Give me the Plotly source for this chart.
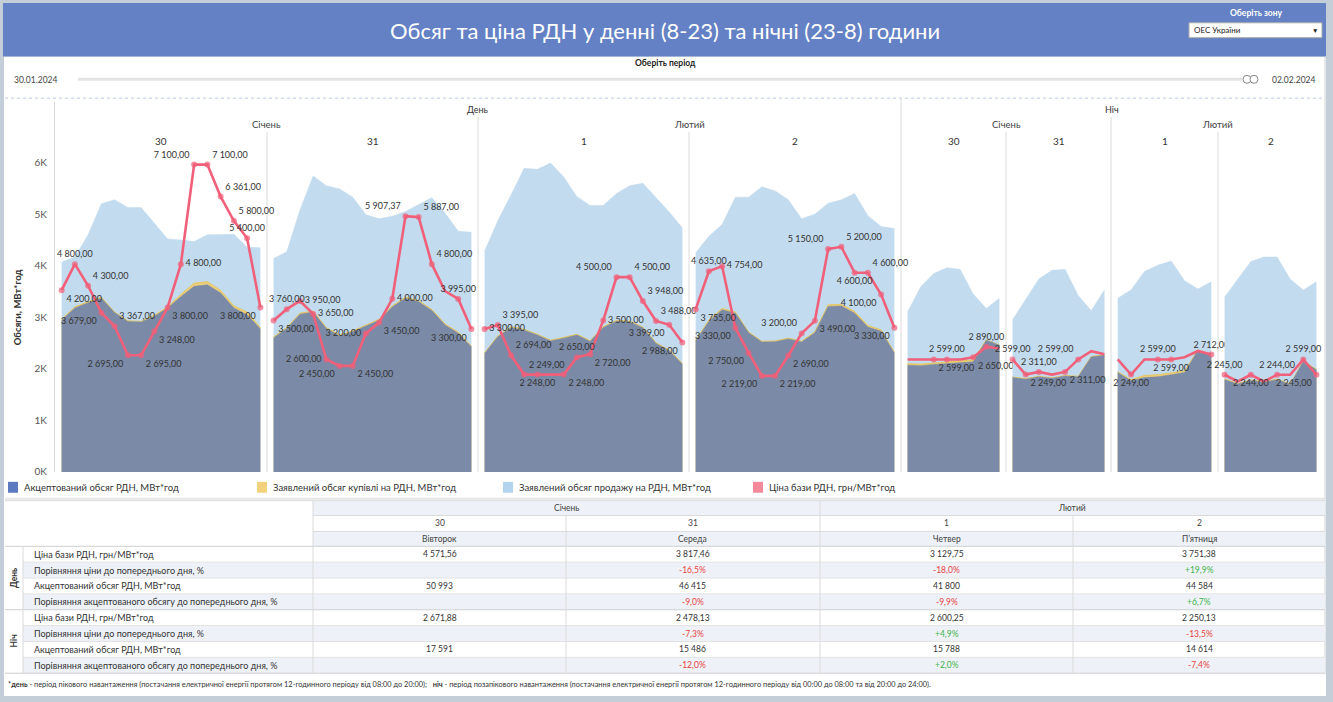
import plotly.graph_objects as go

W, H = 1333, 702
FONT = "Lato"


def px(x):
    return x / W


def py(y):
    return 1 - y / H


# ------------------------------------------------------------------ data
DAY_HOURS = list(range(8, 24))
NIGHT_HOURS = list(range(0, 8))
DAYS = ["30", "31", "1", "2"]
WEEKDAYS = ["Вівторок", "Середа", "Четвер", "П’ятниця"]
VOL_TICKS = [0, 1000, 2000, 3000, 4000, 5000, 6000]
VOL_TICK_LABELS = ["0K", "1K", "2K", "3K", "4K", "5K", "6K"]

# day (08-23) hourly values
day30_price = [4200, 4800, 4300, 3679, 3367, 2695, 2695, 3248, 3800, 4800, 7100, 7100, 6361, 5800, 5400, 3800]
day31_price = [3500, 3760, 3950, 3650, 2600, 2450, 2450, 3200, 3450, 4000, 5907.37, 5887, 4800, 4180, 3995, 3300]
day01_price = [3300, 3395, 2694, 2249, 2248, 2249, 2248, 2650, 2720, 3500, 4500, 4500, 3948, 3488, 3399, 2988]
day02_price = [3755, 4635, 4754, 3330, 2750, 2219, 2219, 2690, 3200, 3490, 5150, 5200, 4600, 4600, 4100, 3330]

day30_accepted = [2940, 3180, 3280, 3370, 3090, 2920, 2910, 3020, 3180, 3400, 3600, 3630, 3470, 3180, 3050, 2773]
day31_accepted = [2600, 2780, 3060, 3100, 2780, 2640, 2720, 2830, 2940, 3200, 3370, 3300, 3130, 2850, 2690, 2425]
day01_accepted = [2295, 2620, 2800, 2750, 2655, 2540, 2595, 2655, 2530, 2800, 2925, 2910, 2795, 2490, 2350, 2090]
day02_accepted = [2540, 2920, 3145, 3080, 2700, 2520, 2525, 2580, 2520, 2700, 3210, 3220, 3080, 2810, 2730, 2304]

day30_buy = [2960, 3200, 3300, 3390, 3100, 2930, 2920, 3040, 3200, 3440, 3660, 3690, 3520, 3220, 3100, 2800]
day31_buy = [2615, 2800, 3080, 3120, 2800, 2655, 2735, 2850, 2960, 3220, 3390, 3320, 3150, 2870, 2710, 2440]
day01_buy = [2310, 2635, 2815, 2765, 2670, 2555, 2610, 2670, 2545, 2815, 2940, 2925, 2810, 2505, 2365, 2105]
day02_buy = [2555, 2945, 3170, 3100, 2715, 2535, 2540, 2595, 2535, 2720, 3240, 3250, 3110, 2840, 2755, 2320]

day30_sell = [4070, 4170, 4600, 5200, 5280, 5130, 5130, 4830, 4520, 4500, 4470, 4600, 4610, 4610, 4360, 4350]
day31_sell = [4140, 4270, 5080, 5740, 5550, 5490, 5330, 4990, 4910, 4960, 5050, 5180, 5320, 5020, 4670, 4650]
day01_sell = [4280, 4870, 5370, 5890, 5870, 5990, 5720, 5340, 5170, 5170, 5400, 5550, 5600, 5320, 5040, 4730]
day02_sell = [4250, 4570, 4800, 5330, 5330, 5530, 5450, 5280, 4910, 5000, 5210, 5280, 5400, 4970, 4760, 4720]

# night hourly values
night30_price = [2599, 2599, 2599, 2599, 2599, 2650, 2890, 2850]
night31_price = [2599, 2249, 2311, 2249, 2311, 2599, 2790, 2717]
night01_price = [2599, 2249, 2599, 2599, 2599, 2650, 2795, 2712]
night02_price = [2245, 2090, 2244, 2090, 2244, 2244, 2599, 2245]

night30_accepted = [2070, 2060, 2085, 2105, 2125, 2135, 2555, 2456]
night31_accepted = [1830, 1800, 1845, 1815, 1860, 1845, 2230, 2261]
night01_accepted = [1930, 1770, 1830, 1845, 1885, 1930, 2355, 2243]
night02_accepted = [1790, 1705, 1775, 1740, 1790, 1695, 2140, 1979]

night30_buy = [2100, 2090, 2110, 2135, 2155, 2170, 2560, 2460]
night31_buy = [1840, 1810, 1855, 1825, 1870, 1855, 2240, 2270]
night01_buy = [1945, 1790, 1870, 1885, 1920, 1960, 2365, 2250]
night02_buy = [1800, 1715, 1785, 1750, 1800, 1705, 2150, 1990]

night30_sell = [3100, 3590, 3850, 3960, 3930, 3450, 3170, 3370]
night31_sell = [2950, 3350, 3740, 3910, 3930, 3420, 3130, 3530]
night01_sell = [3370, 3530, 3890, 4010, 4090, 3710, 3550, 3690]
night02_sell = [3390, 3740, 4080, 4170, 4170, 3740, 3530, 3690]

# summary table
day_price_avg = [4571.56, 3817.46, 3129.75, 3751.38]
day_price_chg = [None, -16.5, -18.0, 19.9]
day_volume = [50993, 46415, 41800, 44584]
day_volume_chg = [None, -9.0, -9.9, 6.7]
night_price_avg = [2671.88, 2478.13, 2600.25, 2250.13]
night_price_chg = [None, -7.3, 4.9, -13.5]
night_volume = [17591, 15486, 15788, 14614]
night_volume_chg = [None, -12.0, 2.0, -7.4]

# ------------------------------------------------------------------ styles
C_BG = "#c4ced9"
C_HEADER = "#6381c4"
C_ACC = "#7a8aa7"
C_BUY = "#eccf78"
C_SELL = "#c3dbee"
C_PRICE = "#f0607a"
C_TXT = "#333333"
C_GRID = "#dadada"
C_ALT = "#eef2f8"

POS = {"tc": "top center", "bc": "bottom center", "tl": "top left", "tr": "top right",
       "bl": "bottom left", "br": "bottom right", "ml": "middle left", "mr": "middle right", "": "top center"}

label_pos = [
    ["br", "tc", "tr", "bl", "tr", "bl", "br", "br", "br", "mr", "tl", "tr", "tr", "tr", "tc", "bl"],
    ["br", "tc", "mr", "mr", "ml", "bl", "br", "ml", "br", "mr", "tl", "tr", "tr", "", "tc", "bl"],
    ["mr", "tr", "tr", "tr", "bc", "", "br", "tc", "br", "mr", "tl", "tr", "tr", "tr", "bl", "bl"],
    ["br", "tc", "mr", "bl", "bl", "bl", "br", "br", "tl", "br", "tl", "tr", "bc", "tr", "bl", "bl"],
    ["", "", "br", "tc", "", "br", "tc", ""],
    ["tc", "br", "tc", "", "br", "tl", "", ""],
    ["", "bc", "", "tc", "bc", "", "", "tc"],
    ["tc", "", "bc", "", "tc", "", "tc", "bl"],
]

# panel pixel extents (left, right)
panel_px = [(55, 267), (267, 478), (478, 689), (689, 901),
            (901, 1006), (1006, 1111), (1111, 1218), (1218, 1323)]
PLOT_TOP, PLOT_BOT = 103, 476
VOL_PX_PER_UNIT = 0.052
PRICE_PX_PER_UNIT = 0.04366


def fmt_price(v):
    return f"{v:,.2f}".replace(",", " ").replace(".", ",")


def fmt_int(v):
    return f"{v:,}".replace(",", " ")


def fmt_pct(v):
    if v is None:
        return ""
    return f"{v:+.1f}%".replace(".", ",")


panels = [
    (DAY_HOURS, day30_sell, day30_buy, day30_accepted, day30_price),
    (DAY_HOURS, day31_sell, day31_buy, day31_accepted, day31_price),
    (DAY_HOURS, day01_sell, day01_buy, day01_accepted, day01_price),
    (DAY_HOURS, day02_sell, day02_buy, day02_accepted, day02_price),
    (NIGHT_HOURS, night30_sell, night30_buy, night30_accepted, night30_price),
    (NIGHT_HOURS, night31_sell, night31_buy, night31_accepted, night31_price),
    (NIGHT_HOURS, night01_sell, night01_buy, night01_accepted, night01_price),
    (NIGHT_HOURS, night02_sell, night02_buy, night02_accepted, night02_price),
]

fig = go.Figure()
layout_axes = {}
vol_max = (PLOT_BOT - PLOT_TOP) / VOL_PX_PER_UNIT
price_max = (PLOT_BOT - PLOT_TOP) / PRICE_PX_PER_UNIT

for i, (hours, sell, buy, acc, price) in enumerate(panels):
    n = i + 1
    xa = "x" if n == 1 else f"x{n}"
    yv_n, yp_n = 2 * n - 1, 2 * n
    yv = "y" if yv_n == 1 else f"y{yv_n}"
    yp = f"y{yp_n}"
    common = dict(xaxis=xa, showlegend=False, hoverinfo="skip")
    fig.add_trace(go.Scatter(x=hours, y=sell, yaxis=yv, mode="lines", fill="tozeroy",
                             fillcolor=C_SELL, line=dict(color=C_SELL, width=0.5), **common))
    fig.add_trace(go.Scatter(x=hours, y=buy, yaxis=yv, mode="lines", fill="tozeroy",
                             fillcolor=C_BUY, line=dict(color="#e6c65f", width=1), **common))
    fig.add_trace(go.Scatter(x=hours, y=acc, yaxis=yv, mode="lines", fill="tozeroy",
                             fillcolor=C_ACC, line=dict(color=C_ACC, width=0.5), **common))
    pos = label_pos[i]
    texts = [fmt_price(v) if p else "" for v, p in zip(price, pos)]
    sizes = [6 if p else 0 for p in pos]
    fig.add_trace(go.Scatter(x=hours, y=price, yaxis=yp, mode="lines+markers+text",
                             line=dict(color=C_PRICE, width=2.6),
                             marker=dict(color=C_PRICE, size=sizes, line=dict(width=0)),
                             text=texts, textposition=[POS[p] for p in pos],
                             textfont=dict(size=9, color=C_TXT, family=FONT),
                             cliponaxis=False, **common))
    l, r = panel_px[i]
    rng = [hours[0] - 0.5, hours[-1] + 0.5]
    layout_axes["xaxis" if n == 1 else f"xaxis{n}"] = dict(
        domain=[px(l), px(r)], range=rng, visible=False, anchor=yv, fixedrange=True)
    yv_key = "yaxis" if yv_n == 1 else f"yaxis{yv_n}"
    if n == 1:
        layout_axes[yv_key] = dict(domain=[py(PLOT_BOT), py(PLOT_TOP)], range=[0, vol_max],
                                   anchor=xa, tickvals=VOL_TICKS, ticktext=VOL_TICK_LABELS,
                                   showgrid=False, zeroline=False, showline=True,
                                   linecolor=C_GRID, linewidth=1, ticks="",
                                   ticklabelstandoff=5,
                                   tickfont=dict(size=10, color="#555", family=FONT))
    else:
        layout_axes[yv_key] = dict(domain=[py(PLOT_BOT), py(PLOT_TOP)], range=[0, vol_max],
                                   anchor=xa, visible=False)
    layout_axes[f"yaxis{yp_n}"] = dict(overlaying=yv, range=[0, price_max], anchor=xa,
                                       visible=False)

shapes = []
annots = []


def rect(x0, y0, x1, y1, fill, line=None, lw=0):
    shapes.append(dict(type="rect", xref="paper", yref="paper", x0=px(x0), x1=px(x1),
                       y0=py(y1), y1=py(y0), fillcolor=fill,
                       line=dict(width=lw, color=line or fill), layer="below"))


def hline(x0, x1, y, color, w=1, dash="solid"):
    shapes.append(dict(type="line", xref="paper", yref="paper", x0=px(x0), x1=px(x1),
                       y0=py(y), y1=py(y), line=dict(color=color, width=w, dash=dash),
                       layer="below"))


def vline(x, y0, y1, color, w=1):
    shapes.append(dict(type="line", xref="paper", yref="paper", x0=px(x), x1=px(x),
                       y0=py(y0), y1=py(y1), line=dict(color=color, width=w), layer="below"))


def text(x, y, s, size=9, color=C_TXT, xa="center", ya="middle", angle=0, family=FONT):
    annots.append(dict(x=px(x), y=py(y), xref="paper", yref="paper", text=s, showarrow=False,
                       xanchor=xa, yanchor=ya, textangle=angle,
                       font=dict(size=size, color=color, family=family)))


# backgrounds
rect(4, 57, 1326, 702, "white")
rect(3, 3, 1326, 57, C_HEADER)
hline(5, 1325, 99, "#b8c8e2", 1, "dot")
vline(1325, 57, 680, "#d0d0d0")

# header
text(665, 31, "Обсяг та ціна РДН у денні (8-23) та нічні (23-8) години", 22, "white")
text(1256, 13, "<b>Оберіть зону</b>", 8.5, "white")
rect(1189, 23, 1322, 38, "white", "#aaaaaa", 1)
text(1192, 30.5, "ОЕС України", 8, "#222", xa="left")
text(1315, 30.5, "▼", 6.5, "#222")

# period slider
text(665, 64, "<b>Оберіть період</b>", 8.5, "#222")
text(12, 81, "30.01.2024", 8.5, "#444", xa="left")
text(1270, 81, "02.02.2024", 8.5, "#444", xa="left")
hline(78, 1242, 80, "#e4e4e4", 3)
for cx in (1247, 1254):
    shapes.append(dict(type="circle", xref="paper", yref="paper", x0=px(cx - 4), x1=px(cx + 4),
                       y0=py(84), y1=py(76), fillcolor="white", line=dict(color="#888", width=1)))

# chart header labels & separators
text(478, 110, "День", 9)
text(1112, 110, "Ніч", 9)
for cx, s in [(266, "Січень"), (689, "Лютий"), (1006, "Січень"), (1217, "Лютий")]:
    text(cx, 126, s, 9.5, "#444")
for i, d in enumerate(DAYS + DAYS):
    l, r = panel_px[i]
    text((l + r) / 2, 142, d, 10, "#333")
for x in (267, 689, 1006, 1218):
    vline(x, 133, PLOT_BOT, C_GRID)
for x in (478, 1111):
    vline(x, 118, PLOT_BOT, C_GRID)
vline(901, 100, PLOT_BOT, C_GRID)
text(17, 310, "<b>Обсяги, МВт*год</b>", 9.5, "#333", angle=-90)

# legend
legend_items = [("Акцептований обсяг РДН, МВт*год", "#5d79bf", 8),
                ("Заявлений обсяг купівлі на РДН, МВт*год", "#f2d27c", 257),
                ("Заявлений обсяг продажу на РДН, МВт*год", "#b3d4ee", 503),
                ("Ціна бази РДН, грн/МВт*год", "#f3899b", 753)]
for label, col, x in legend_items:
    rect(x, 486, x + 10, 497, col)
    text(x + 14, 491.5, label, 9.5, "#333", xa="left")
hline(5, 1325, 503, "#e6e6e6", 2)

# table
cols = [313, 566, 820, 1073, 1325]
centers = [(cols[k] + cols[k + 1]) / 2 for k in range(4)]
rect(313, 505, 1325, 520, C_ALT)
rect(313, 536, 1325, 551, C_ALT)
row_top = 551
row_h = 16
for k in range(8):
    if k % 2 == 1:
        rect(23, row_top + k * row_h, 1325, row_top + (k + 1) * row_h, C_ALT)
hline(313, 1325, 505, C_GRID)
hline(5, 313, 505, C_GRID)
hline(313, 1325, 520, C_GRID)
hline(313, 1325, 536, C_GRID)
hline(5, 1325, 551, "#cfcfcf")
for k in range(1, 8):
    hline(23 if k != 4 else 5, 1325, row_top + k * row_h, "#e2e2e2" if k != 4 else "#cfcfcf")
hline(5, 1325, row_top + 8 * row_h, "#cfcfcf")
vline(23, 551, 679, C_GRID)
vline(313, 505, 679, C_GRID)
vline(820, 505, 679, C_GRID)
for x in (566, 1073):
    vline(x, 520, 679, C_GRID)

text(566, 512.5, "Січень", 8.5, "#444")
text(1072, 512.5, "Лютий", 8.5, "#444")
for k in range(4):
    text(centers[k], 528, DAYS[k], 8.5, "#444")
    text(centers[k], 543.5, WEEKDAYS[k], 8.5, "#444")

row_labels = ["Ціна бази РДН, грн/МВт*год", "Порівняння ціни до попереднього дня, %",
              "Акцептований обсяг РДН, МВт*год",
              "Порівняння акцептованого обсягу до попереднього дня, %"]
rows = [
    [fmt_price(v) for v in day_price_avg], day_price_chg,
    [fmt_int(v) for v in day_volume], day_volume_chg,
    [fmt_price(v) for v in night_price_avg], night_price_chg,
    [fmt_int(v) for v in night_volume], night_volume_chg,
]
for k in range(8):
    yc = row_top + k * row_h + row_h / 2
    text(32, yc, row_labels[k % 4], 9, "#333", xa="left")
    vals = rows[k]
    for c in range(4):
        v = vals[c]
        if k % 2 == 1:
            if v is None:
                continue
            col = "#e8413c" if v < 0 else "#3fb24a"
            text(centers[c], yc, fmt_pct(v), 8.5, col)
        else:
            text(centers[c], yc, v, 8.5, "#333")
text(14, row_top + 2 * row_h, "<b>День</b>", 8.5, "#333", angle=-90)
text(14, row_top + 6 * row_h, "<b>Ніч</b>", 8.5, "#333", angle=-90)

text(6, 690, "*<b>день</b> - період пікового навантаження (постачання електричної енергії протягом "
     "12-годинного періоду від 08:00 до 20:00);   <b>ніч</b> - період позапікового навантаження "
     "(постачання електричної енергії протягом 12-годинного періоду від 00:00 до 08:00 та від 20:00 до 24:00).",
     7.4, "#333", xa="left")

fig.update_layout(
    width=W, height=H, autosize=False,
    margin=dict(l=0, r=0, t=0, b=0, pad=0),
    paper_bgcolor=C_BG, plot_bgcolor="rgba(0,0,0,0)",
    font=dict(family=FONT, color=C_TXT),
    shapes=shapes, annotations=annots, showlegend=False,
    **layout_axes,
)

fig.write_html("out.html", config={"displayModeBar": False},
               post_script="document.body.style.margin='0';document.body.style.overflow='hidden';")
